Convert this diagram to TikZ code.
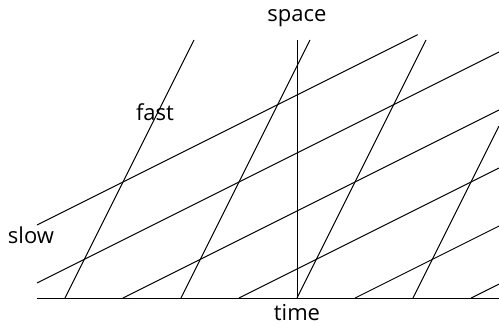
\documentclass[tikz,border=0pt]{standalone}
\usepackage{fontspec}
\setmainfont{Open Sans}
\begin{document}
\begin{tikzpicture}[x=58pt, y=58pt, line width=0.5pt,
    every node/.style={font=\fontsize{11}{13}\selectfont, inner sep=1pt}]
    \useasboundingbox (-2.560,-0.2155) rectangle (1.741,2.569);

    % Axes
    \draw (-2.241,0) -- (1.741,0);
    \draw (0,0) -- (0,2.224);
    \node (time) at (0,-0.125) {time};
    \node (space) at (0,2.415) {space};

    % Fast lines
    \foreach \b in {-2,-1,0} \draw (\b,0) -- ++(1.112,2.224);
    \draw (1,0) -- (1.741,1.482);

    % Slow lines
    \draw (-2.241,0.6295) -- (1.04,2.27);
    \draw (-2.241,0.1295) -- (1.741,2.1205);
    \foreach \b in {-1.5,-0.5,0.5,1.5} \draw (\b,0) -- (1.741,{0.5*(1.741-\b)});

    % Labels
    \node (fast) at (-1.224,1.603) {fast};
    \node (slow) at (-2.293,0.543) {slow};
\end{tikzpicture}
\end{document}
